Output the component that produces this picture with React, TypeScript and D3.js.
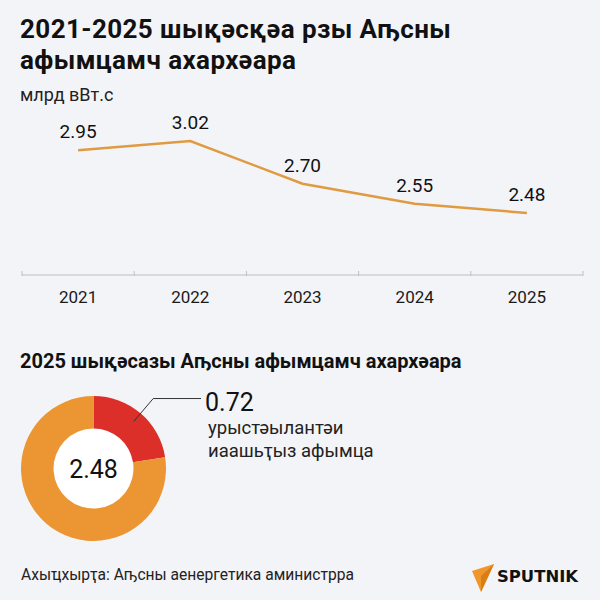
import React, { useEffect, useRef } from 'react';
import * as d3 from 'd3';

// line chart: electricity production, bn kWh
const years = ['2021', '2022', '2023', '2024', '2025'];
const production = [2.95, 3.02, 2.7, 2.55, 2.48];

// donut: 2025 consumption split
const shareNames = ['урыстәылантәи иаашьҭыз афымца', 'Аҧсны'];
const shareValues = [0.72, 2.48];
const shareColors = ['#dc2f29', '#eb9632'];

const App = () => {
  const svgRef = useRef<SVGSVGElement>(null);

  useEffect(() => {
    const svg = d3.select(svgRef.current);
    svg.selectAll('*').remove();

    const W = 600;
    const H = 600;
    const font = 'Roboto, "Noto Sans", sans-serif';

    svg.append('rect').attr('width', W).attr('height', H).attr('fill', '#f3f4f8');

    // Title (two lines)
    const titleLines = ['2021-2025 шықәсқәа рзы Аҧсны', 'афымцамч ахархәара'];
    svg
      .selectAll('.title')
      .data(titleLines)
      .enter()
      .append('text')
      .attr('x', 20)
      .attr('y', (_, i) => 38 + i * 31)
      .attr('font-family', font)
      .attr('font-weight', 700)
      .attr('font-size', 26)
      .attr('letter-spacing', 0.4)
      .attr('fill', '#111')
      .text(d => d);

    svg
      .append('text')
      .attr('x', 20)
      .attr('y', 101)
      .attr('font-family', font)
      .attr('font-size', 18)
      .attr('fill', '#222')
      .text('млрд вВт.с');

    // Scales
    const x = d3.scaleBand().domain(years).range([22, 583]);
    const y = d3.scaleLinear().domain([2, 3.2]).range([277, 117]);
    const axisY = 275;

    // Axis line + edge ticks
    const g = svg.append('g');
    g.append('line')
      .attr('x1', 22)
      .attr('x2', 583)
      .attr('y1', axisY)
      .attr('y2', axisY)
      .attr('stroke', '#cfd0d6')
      .attr('stroke-width', 1.5);

    const edges = years.map(d => x(d) as number).concat([583]);
    g.selectAll('.tick')
      .data(edges)
      .enter()
      .append('line')
      .attr('x1', d => d)
      .attr('x2', d => d)
      .attr('y1', axisY - 4)
      .attr('y2', axisY + 1)
      .attr('stroke', '#bfc0c6')
      .attr('stroke-width', 1);

    g.selectAll('.year')
      .data(years)
      .enter()
      .append('text')
      .attr('x', d => (x(d) as number) + x.bandwidth() / 2)
      .attr('y', 303)
      .attr('text-anchor', 'middle')
      .attr('font-family', font)
      .attr('font-size', 17)
      .attr('fill', '#1a1a1a')
      .text(d => d);

    // Line
    const line = d3
      .line<number>()
      .x((_, i) => (x(years[i]) as number) + x.bandwidth() / 2)
      .y(d => y(d));

    svg
      .append('path')
      .datum(production)
      .attr('d', line)
      .attr('fill', 'none')
      .attr('stroke', '#e09a40')
      .attr('stroke-width', 2.5);

    svg
      .selectAll('.val')
      .data(production)
      .enter()
      .append('text')
      .attr('x', (_, i) => (x(years[i]) as number) + x.bandwidth() / 2)
      .attr('y', d => y(d) - 12)
      .attr('text-anchor', 'middle')
      .attr('font-family', font)
      .attr('font-size', 19)
      .attr('fill', '#111')
      .text(d => d.toFixed(2));

    // Second section title
    svg
      .append('text')
      .attr('x', 20)
      .attr('y', 368)
      .attr('font-family', font)
      .attr('font-weight', 700)
      .attr('font-size', 20)
      .attr('fill', '#111')
      .text('2025 шықәсазы Аҧсны афымцамч ахархәара');

    // Donut
    const cx = 93.5;
    const cy = 468.5;
    const rOut = 72.5;
    const rIn = 40;
    const pie = d3.pie<number>().sort(null)(shareValues);
    const arc = d3.arc<d3.PieArcDatum<number>>().innerRadius(rIn).outerRadius(rOut);
    const dg = svg.append('g').attr('transform', `translate(${cx},${cy})`);
    dg.append('circle').attr('r', rIn).attr('fill', '#fff');
    dg.selectAll('path')
      .data(pie)
      .enter()
      .append('path')
      .attr('d', arc)
      .attr('fill', (_, i) => shareColors[i]);

    dg.append('text')
      .attr('y', 9)
      .attr('text-anchor', 'middle')
      .attr('font-family', font)
      .attr('font-size', 25)
      .attr('fill', '#111')
      .text(shareValues[1].toFixed(2));

    // Leader for the imported slice
    const s = pie[0];
    const mid = (s.startAngle + s.endAngle) / 2;
    const p0 = [Math.sin(mid) * 62, -Math.cos(mid) * 62];
    const p1 = [Math.sin(mid) * 92, -Math.cos(mid) * 92];
    dg.append('polyline')
      .attr('points', `${p0[0]},${p0[1]} ${p1[0]},${p1[1]} ${201 - cx},${p1[1]}`)
      .attr('fill', 'none')
      .attr('stroke', '#333')
      .attr('stroke-width', 1);

    svg
      .append('text')
      .attr('x', 205)
      .attr('y', 411)
      .attr('font-family', font)
      .attr('font-size', 25)
      .attr('fill', '#111')
      .text(shareValues[0].toFixed(2));

    const lbl = svg
      .append('text')
      .attr('font-family', font)
      .attr('font-size', 18.5)
      .attr('fill', '#222');
    lbl.append('tspan').attr('x', 208).attr('y', 434).text('урыстәылантәи');
    lbl.append('tspan').attr('x', 208).attr('y', 457).text('иаашьҭыз афымца');

    // Footer
    svg
      .append('text')
      .attr('x', 21)
      .attr('y', 580)
      .attr('font-family', font)
      .attr('font-size', 15.6)
      .attr('fill', '#222')
      .text('Ахыҵхырҭа: Аҧсны аенергетика аминистррa');

    // Logo
    svg
      .append('path')
      .attr('d', 'M472,571 L494,564 L481,592 Z')
      .attr('fill', '#f0962a');
    svg
      .append('path')
      .attr('d', 'M481,576 L494,564 L481,592 Z')
      .attr('fill', '#d97d17');
    svg
      .append('text')
      .attr('x', 497)
      .attr('y', 582)
      .attr('font-family', '"DejaVu Sans", sans-serif')
      .attr('font-weight', 900)
      .attr('font-size', 15)
      .attr('textLength', 81)
      .attr('lengthAdjust', 'spacingAndGlyphs')
      .attr('fill', '#111')
      .text('SPUTNIK');
  }, []);

  return (
    <svg
      ref={svgRef}
      width={600}
      height={600}
      style={{ position: 'absolute', left: 0, top: 0, display: 'block' }}
    />
  );
};

export default App;
